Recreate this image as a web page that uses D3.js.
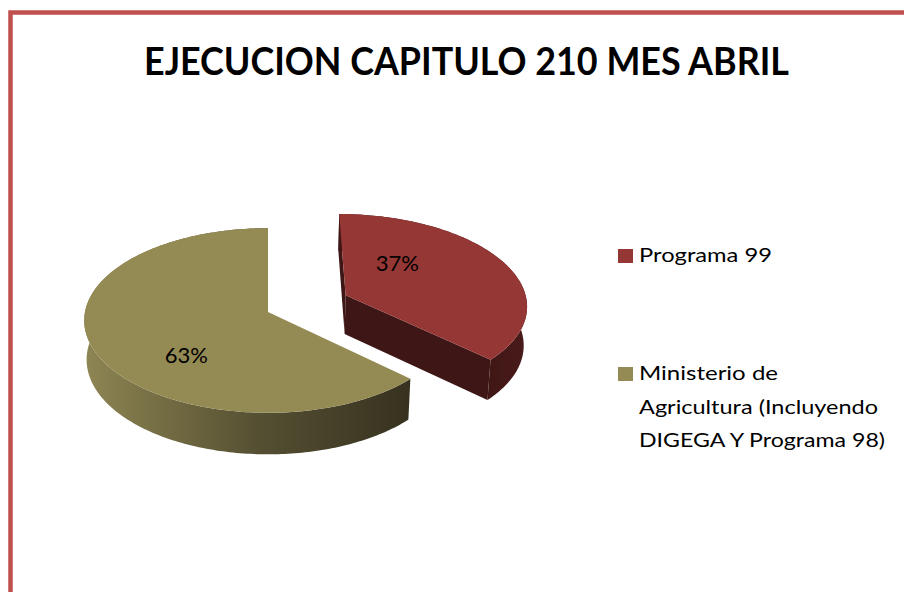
<!DOCTYPE html>
<html><head><meta charset="utf-8">
<script src="https://cdn.jsdelivr.net/npm/d3@7"></script>
<style>body{margin:0;background:#fff;overflow:hidden}</style>
</head><body><svg id="c" width="904" height="592"></svg>
<script>
// ---- data ----
const title = "EJECUCION CAPITULO 210 MES ABRIL";
const categories = ["Programa 99", "Ministerio de Agricultura (Incluyendo DIGEGA Y Programa 98)"];
const values = [37, 63];
const legendLines = [["Programa 99"], ["Ministerio de", "Agricultura (Incluyendo", "DIGEGA Y Programa 98)"]];
const percentLabels = ["37%", "63%"];

// ---- style ----
const topColors = ["#953735", "#948A54"];
const faceColors = ["#3d1615", "#3a3521"];
const explode = [0.47, 0];             // fraction of radius
const labelPolar = [[39.5, 0.49], [223.6, 0.62]]; // deg, fraction of R (label placement)

const svg = d3.select("#c");
const W = 904, H = 592;

// frame (cropped border)
svg.append("path").attr("d", `M10.5,${H+5} L10.5,12.5 L${W+5},12.5`)
  .attr("fill", "none").attr("stroke", "#C0504D").attr("stroke-width", 4.5);

// title
svg.append("text").text(title)
  .attr("x", 144).attr("y", 75)
  .attr("font-family", "Lato, 'Open Sans', sans-serif").attr("font-weight", 700)
  .attr("font-size", 38).attr("fill", "#000")
  .attr("textLength", 645).attr("lengthAdjust", "spacingAndGlyphs");

// ---- 3D pie projection ----
const R = 100, D = 943, F = 1726, phi = 30 * Math.PI / 180, Hd = 25;
const cx0 = 268, cy0 = 312;
function proj(u, v, h) {
  const yc = v * Math.sin(phi) + h * Math.cos(phi);
  const zc = D + v * Math.cos(phi) - h * Math.sin(phi);
  return [cx0 + F * u / zc, cy0 - F * yc / zc];
}
const pie = d3.pie().sort(null).startAngle(0).endAngle(2 * Math.PI);
const arcs = pie(values);

const defs = svg.append("defs");
const g1 = defs.append("linearGradient").attr("id", "gOlive")
  .attr("gradientUnits", "userSpaceOnUse").attr("x1", 83).attr("x2", 410).attr("y1", 0).attr("y2", 0);
[[0, "#8e8653"], [0.25, "#736c43"], [0.55, "#544e32"], [1, "#37321f"]].forEach(s =>
  g1.append("stop").attr("offset", s[0]).attr("stop-color", s[1]));
const g0 = defs.append("linearGradient").attr("id", "gRed")
  .attr("gradientUnits", "userSpaceOnUse").attr("x1", 480).attr("x2", 530).attr("y1", 0).attr("y2", 0);
[[0, "#3e1615"], [1, "#4a1b1a"]].forEach(s =>
  g0.append("stop").attr("offset", s[0]).attr("stop-color", s[1]));
const wallFill = ["url(#gRed)", "url(#gOlive)"];

const line = d3.line();
const layer = svg.append("g");

arcs.forEach((a, i) => {
  const mid = (a.startAngle + a.endAngle) / 2;
  const ou = explode[i] * R * Math.sin(mid), ov = explode[i] * R * Math.cos(mid);
  const P = (t, r, h) => proj(ou + r * Math.sin(t), ov + r * Math.cos(t), h);
  const n = Math.max(8, Math.ceil((a.endAngle - a.startAngle) / (Math.PI / 180)));
  const ts = d3.range(n + 1).map(k => a.startAngle + (a.endAngle - a.startAngle) * k / n);
  const g = layer.append("g");
  // outer wall
  const wall = ts.map(t => P(t, R, 0)).concat(ts.slice().reverse().map(t => P(t, R, -Hd)));
  g.append("path").attr("d", line(wall) + "Z").attr("fill", wallFill[i]);
  // cut faces (back-face culled)
  [a.startAngle, a.endAngle].forEach(t => {
    const q = [P(t, 0, 0), P(t, R, 0), P(t, R, -Hd), P(t, 0, -Hd)];
    const area = d3.polygonArea(q);
    const visible = (t === a.startAngle) ? area > 1 : area < -1;
    if (visible) g.append("path").attr("d", line(q) + "Z").attr("fill", faceColors[i]);
  });
  // top face
  const top = [P(0, 0, 0)].concat(ts.map(t => P(t, R, 0)));
  g.append("path").attr("d", line(top) + "Z").attr("fill", topColors[i]);
  // percent label
  const la = labelPolar[i][0] * Math.PI / 180, lr = labelPolar[i][1] * R;
  const lp = proj(ou + lr * Math.sin(la), ov + lr * Math.cos(la), 0);
  g.append("text").text(percentLabels[i])
    .attr("x", lp[0]).attr("y", lp[1] + 8)
    .attr("text-anchor", "middle")
    .attr("font-family", "Lato, 'Open Sans', sans-serif").attr("font-size", 22)
    .attr("fill", "#000");
});

// ---- legend ----
const legendY = [262, 380];
const lineLens = [[133], [139, 239, 246]];
const leg = svg.append("g");
categories.forEach((c, i) => {
  leg.append("rect").attr("x", 618).attr("y", legendY[i] - 13).attr("width", 15).attr("height", 14)
    .attr("fill", topColors[i]);
  legendLines[i].forEach((ln, j) => {
    leg.append("text").text(ln)
      .attr("x", 639).attr("y", legendY[i] + j * 33.5)
      .attr("font-family", "Lato, 'Open Sans', sans-serif").attr("font-size", 20)
      .attr("fill", "#000")
      .attr("textLength", lineLens[i][j]).attr("lengthAdjust", "spacingAndGlyphs");
  });
});
</script></body></html>
